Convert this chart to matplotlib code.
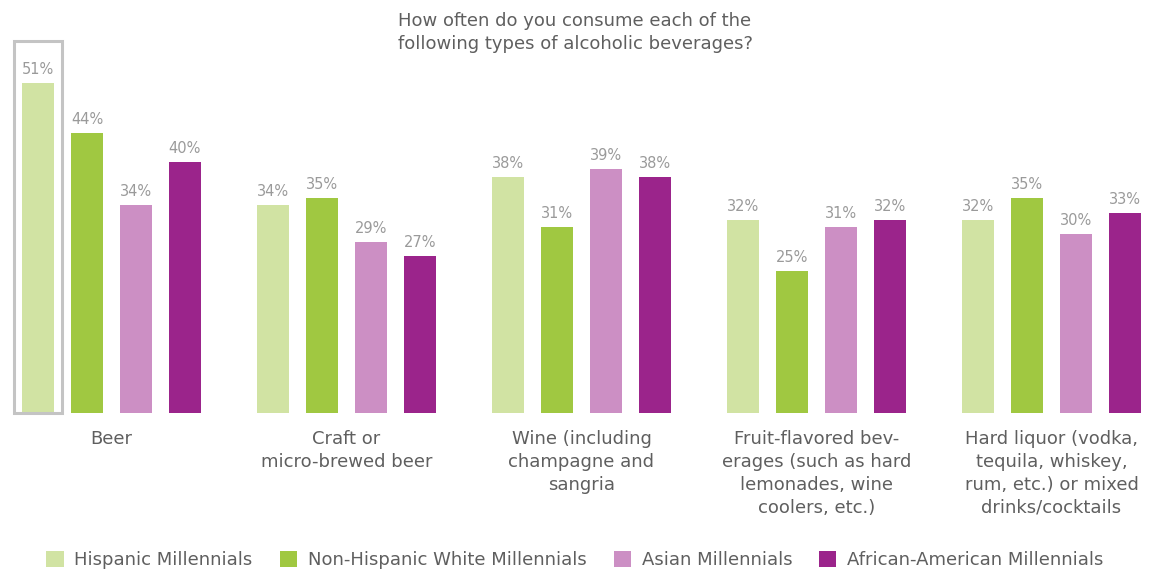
import numpy as np
import matplotlib
matplotlib.use("Agg")
import matplotlib.pyplot as plt
from matplotlib.patches import Rectangle

# chart data
categories = [
    "Beer",
    "Craft or\nmicro-brewed beer",
    "Wine (including\nchampagne and\nsangria",
    "Fruit-flavored bev-\nerages (such as hard\nlemonades, wine\ncoolers, etc.)",
    "Hard liquor (vodka,\ntequila, whiskey,\nrum, etc.) or mixed\ndrinks/cocktails",
]
series_names = [
    "Hispanic Millennials",
    "Non-Hispanic White Millennials",
    "Asian Millennials",
    "African-American Millennials",
]
hispanic = [51, 34, 38, 32, 32]
white = [44, 35, 31, 25, 35]
asian = [34, 29, 39, 31, 30]
african_american = [40, 27, 38, 32, 33]
series = [hispanic, white, asian, african_american]
colors = ["#d1e3a3", "#a0c841", "#cc8fc4", "#9b248b"]

title = "How often do you consume each of the\nfollowing types of alcoholic beverages?"

plt.rcParams["font.family"] = ["DejaVu Sans"]

fig = plt.figure(figsize=(11.5, 5.71), dpi=100)
# axes spans full width, baseline at 413 px from top
ax = fig.add_axes([0, (571 - 413) / 571, 1, 413 / 571])

# value axis of the original does not start at zero
ymin = 5.3
px_per_unit = 7.23
ax.set_ylim(ymin, ymin + 413 / px_per_unit)

pitch = 0.2085
width = 0.14
x = np.arange(len(categories))

for i, (vals, col) in enumerate(zip(series, colors)):
    pos = x + (i - 1.5) * pitch
    bars = ax.bar(pos, vals, width, color=col, label=series_names[i])
    for b, v in zip(bars, vals):
        ax.text(b.get_x() + b.get_width() / 2, v + 9 / px_per_unit, f"{v}%",
                ha="center", va="baseline", fontsize=10.5, color="#9a9a9a")

# highlight box around the first bar
first = x[0] - 1.5 * pitch
pad = 0.033
ax.add_patch(Rectangle((first - width / 2 - pad, ymin), width + 2 * pad,
                       hispanic[0] + 5.7 - ymin,
                       fill=False, edgecolor="#c4c4c4", linewidth=2.2, clip_on=False))

ax.set_xlim(-111.5 / 235, (1150 - 111.5) / 235)
ax.set_xticks(x)
ax.set_xticklabels(categories, fontsize=13, color="#5f5f5f", linespacing=1.36,
                   va="top")
ax.tick_params(axis="x", length=0, pad=12)
ax.set_yticks([])
for s in ax.spines.values():
    s.set_visible(False)

fig.text(0.5, 1 - 12 / 571, title, ha="center", va="top", fontsize=13,
         color="#5f5f5f", linespacing=1.36)

leg = fig.legend(loc="center", bbox_to_anchor=(0.5, (571 - 560) / 571), ncol=4,
                 frameon=False, fontsize=13, handlelength=0.95, handleheight=0.95,
                 handletextpad=0.6, columnspacing=1.5)
for t in leg.get_texts():
    t.set_color("#5f5f5f")

fig.savefig("out.png", dpi=100)
